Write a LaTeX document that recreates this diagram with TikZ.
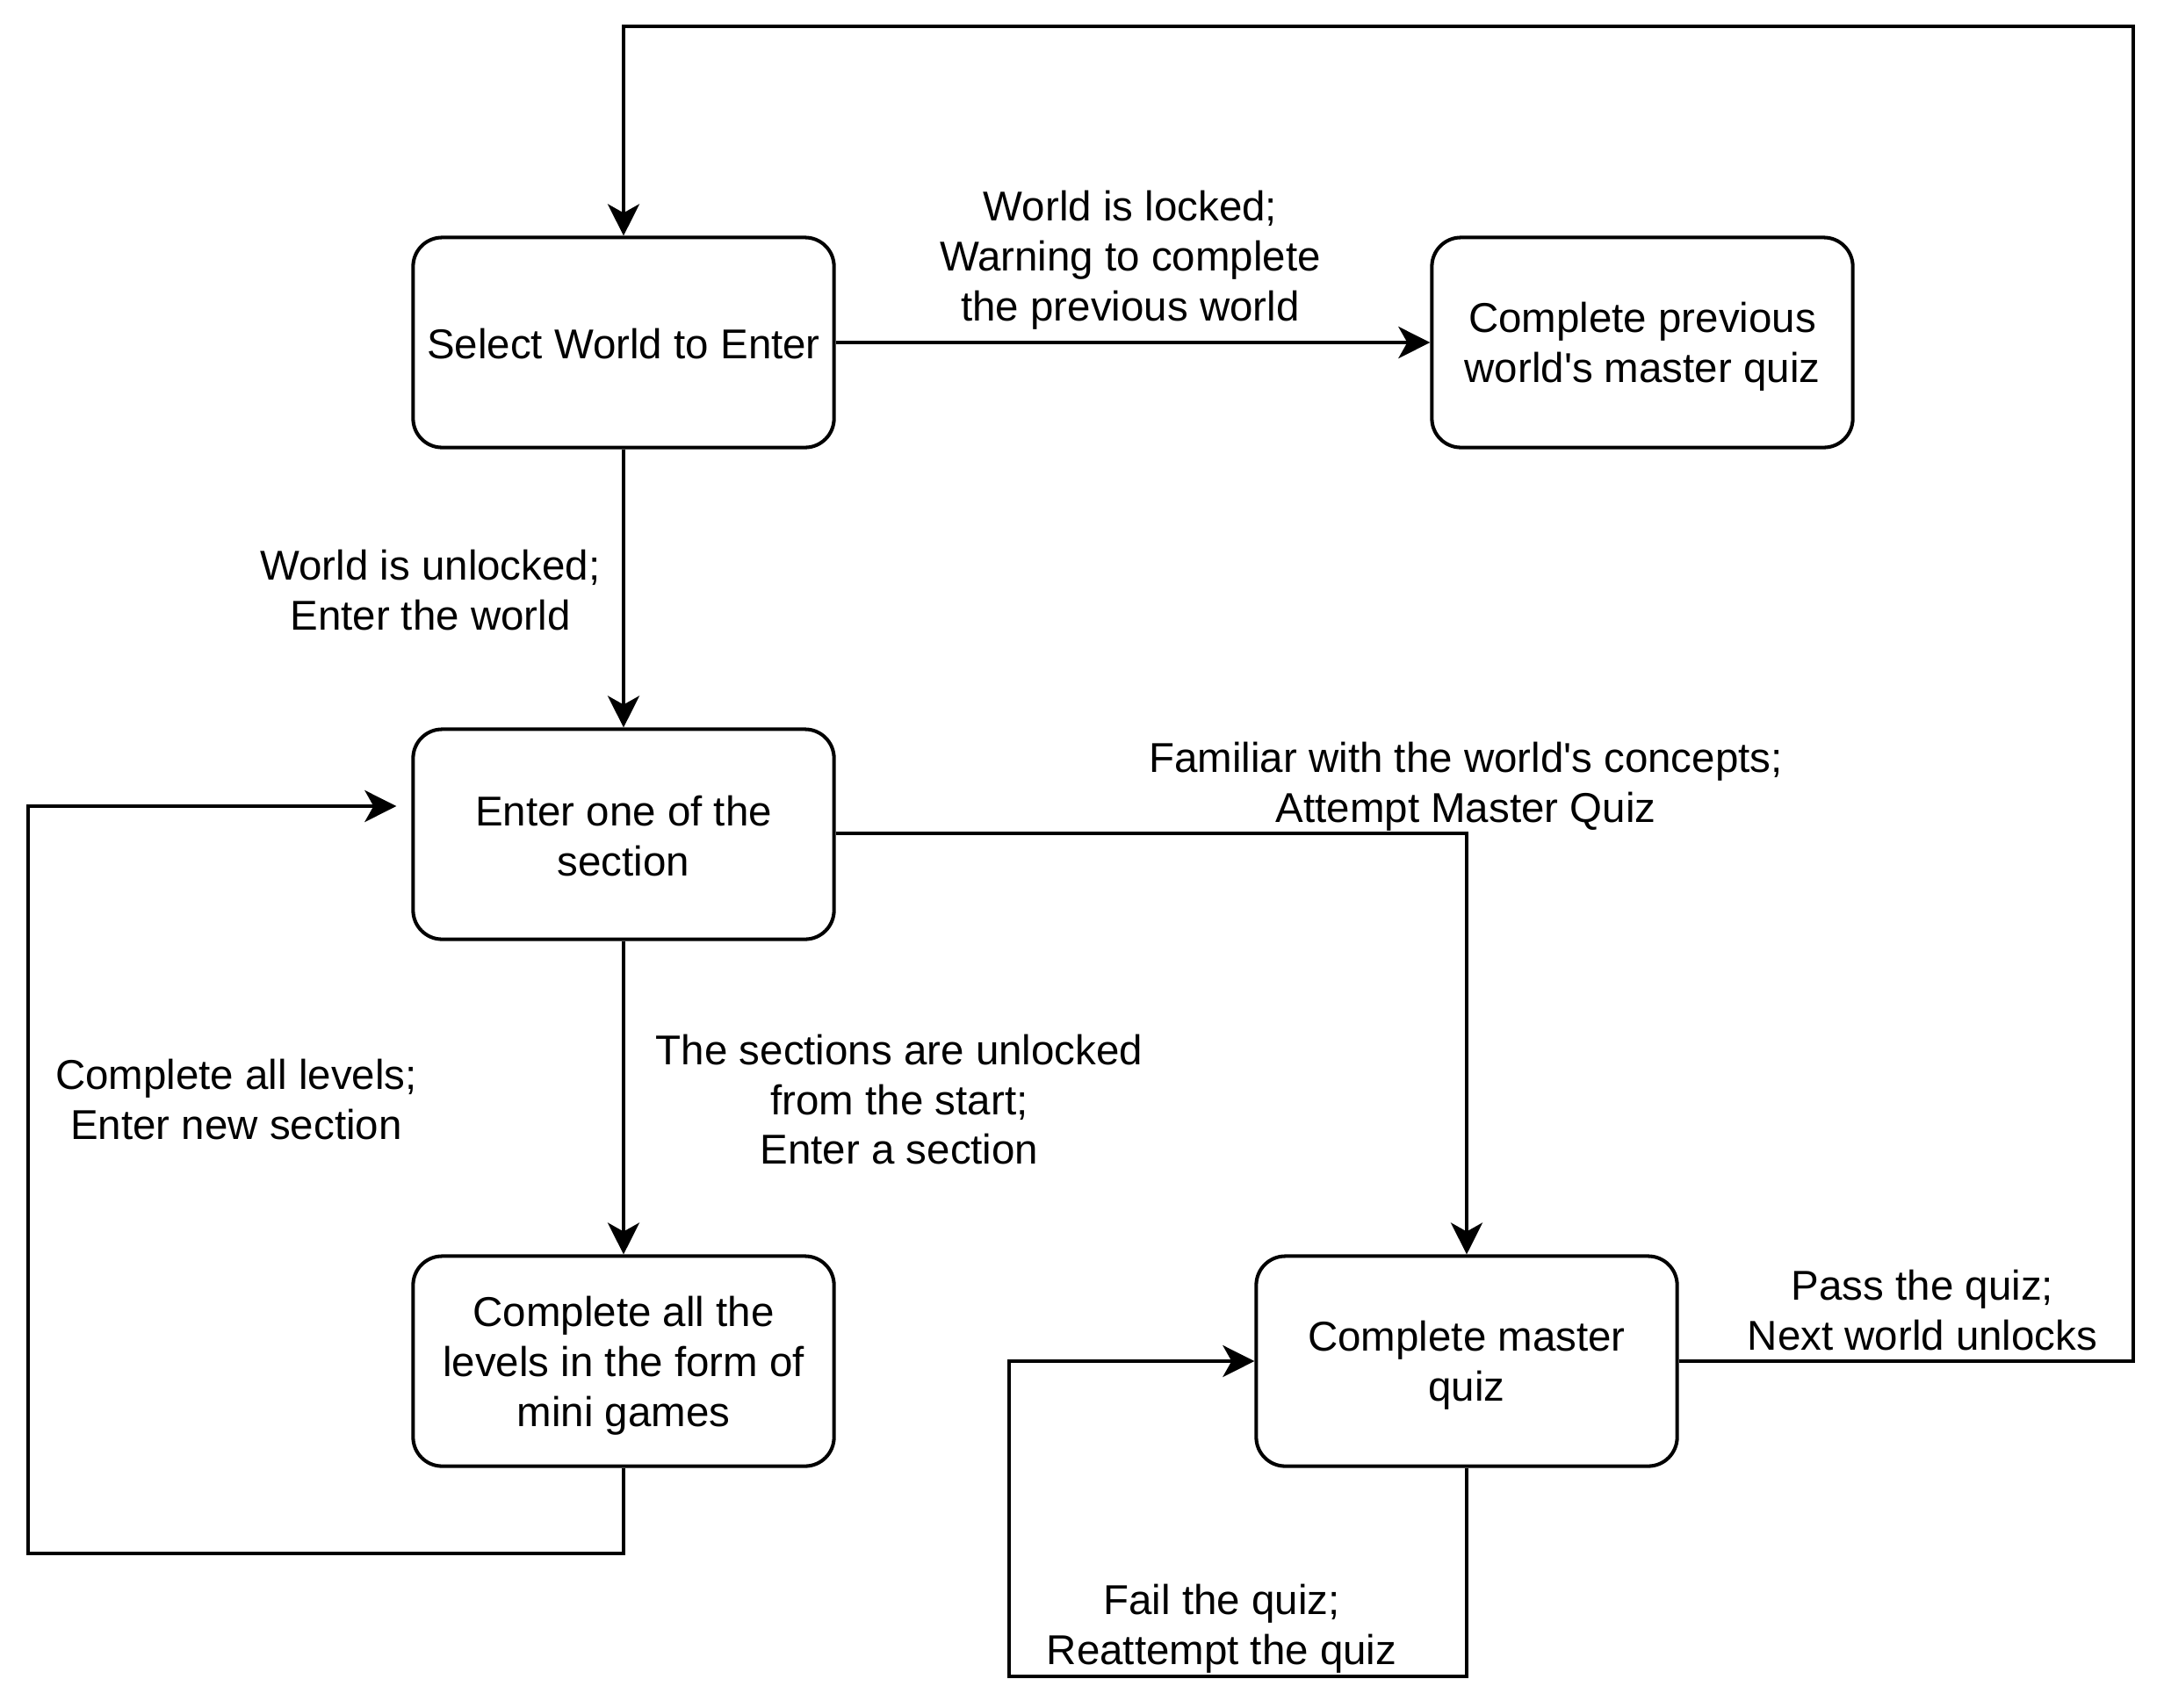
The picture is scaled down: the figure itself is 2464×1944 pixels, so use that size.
\documentclass[tikz,border=0pt]{standalone}
\usepackage{fontspec}
\setmainfont{Liberation Sans}
\usetikzlibrary{arrows.meta,calc}
\begin{document}
\begin{tikzpicture}[x=0.01cm,y=-0.01cm,
  font=\fontsize{13.5}{16.2}\selectfont,
  lbl/.style={align=center,inner sep=0pt},
  box/.style 2 args={draw,line width=1.15pt,rounded corners=0.33cm,minimum width=4.79cm,minimum height=2.39cm,inner sep=0pt,
    label={[lbl,yshift=#2]center:#1}},
  conn/.style={line width=1.15pt,-{Stealth[length=0.36cm,width=0.36cm,inset=0.1cm]}}]
\useasboundingbox (0,0) rectangle (2464,1944);
\node[box={Select World to Enter}{-0.015cm}] (sel) at (710,390) {};
\node[box={Complete previous\\world\textquotesingle s master quiz}{-0.05cm}] (prev) at (1870,390) {};
\node[box={Enter one of the\\section}{-0.02cm}] (sec) at (710,950) {};
\node[box={Complete all the\\levels in the form of\\mini games}{-0.05cm}] (lev) at (710,1550) {};
\node[box={Complete master\\quiz}{-0.05cm}] (quiz) at (1670,1550) {};

\node[lbl] (l1) at (1287,296) {World is locked;\\Warning to complete\\the previous world};
\node[lbl] (l2) at (490,672) {World is unlocked;\\Enter the world};
\node[lbl] (l3) at (1669,896) {Familiar with the world\textquotesingle s concepts;\\Attempt Master Quiz};
\node[lbl] (l4) at (1024,1252) {The sections are unlocked\\from the start;\\Enter a section};
\node[lbl] (l5) at (269,1252) {Complete all levels;\\Enter new section};
\node[lbl] (l6) at (2189,1492) {Pass the quiz;\\Next world unlocks};
\node[lbl] (l7) at (1391,1855) {Fail the quiz;\\Reattempt the quiz};

\coordinate (c1) at (32,1769);
\coordinate (c2) at (1149,1909);
\coordinate (c3) at (2429,30);

\draw[conn] (sel.east) -- (prev.west);
\draw[conn] (sel.south) -- (sec.north);
\draw[conn] (sec.south) -- (lev.north);
\draw[conn] ([yshift=0.01cm]sec.east) -| (quiz.north);
\draw[conn,shorten >=0.17cm] (lev.south) |- (c1) |- ([yshift=0.32cm]sec.west);
\draw[conn] (quiz.south) |- (c2) |- (quiz.west);
\draw[conn] (quiz.east) -| (c3) -| (sel.north);
\end{tikzpicture}
\end{document}
